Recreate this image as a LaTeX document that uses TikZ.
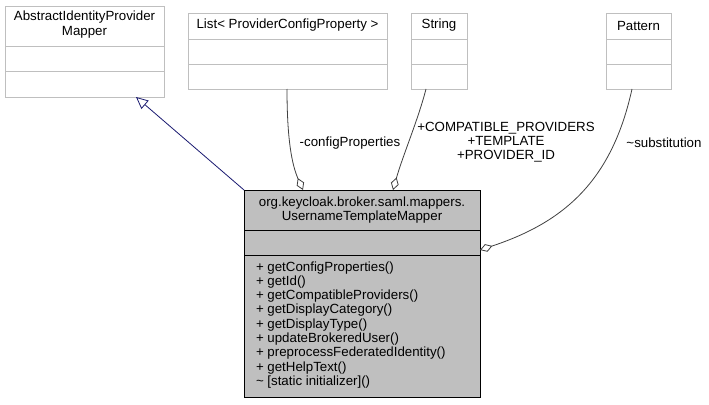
\documentclass[tikz,border=0pt]{standalone}
\usepackage{fontspec}
\setmainfont{Liberation Sans}
\usetikzlibrary{arrows.meta}
\definecolor{bd}{HTML}{BFBFBF}
\definecolor{mainfill}{HTML}{BFBFBF}
\definecolor{genblue}{HTML}{191970}
\definecolor{agg}{HTML}{404040}
\begin{document}
\begin{tikzpicture}[x=1pt,y=-1pt,
  font=\fontsize{13.3}{14.3}\selectfont,
  cls/.style={draw=bd, fill=white, line width=0.9pt, outer sep=0pt, inner sep=0pt, anchor=north west},
  mainbox/.style={draw=black, fill=mainfill, line width=1pt, outer sep=0pt, inner sep=0pt, anchor=north west},
  clsline/.style={draw=bd, line width=0.9pt},
  mainline/.style={draw=black, line width=1pt},
  txt/.style={inner sep=0pt, outer sep=0pt, align=center},
  lst/.style={inner sep=0pt, outer sep=0pt, anchor=base west},
  gen/.style={draw=genblue, line width=0.8pt, -{Triangle[open, length=12pt, width=11pt, fill=white]}},
  aggr/.style={draw=agg, line width=0.8pt, -{Diamond[open, length=13pt, width=8pt, fill=white]}}
]
\useasboundingbox[fill=white] (0,0) rectangle (709,404);

% AbstractIdentityProviderMapper
\node[cls, minimum width=159pt, minimum height=91pt] (abs) at (5,6) {};
\draw[clsline] (5,46) -- (164,46);
\draw[clsline] (5,71) -- (164,71);
\node[txt] (absname) at (84.5,24.5) {AbstractIdentityProvider\\Mapper};

% List< ProviderConfigProperty >
\node[cls, minimum width=199pt, minimum height=76pt] (list) at (188,13) {};
\draw[clsline] (188,39) -- (387,39);
\draw[clsline] (188,64) -- (387,64);
\node[txt] (listname) at (287.5,25.5) {List< ProviderConfigProperty >};

% String
\node[cls, minimum width=56pt, minimum height=76pt] (str) at (411,13) {};
\draw[clsline] (411,39) -- (467,39);
\draw[clsline] (411,64) -- (467,64);
\node[txt] (strname) at (439,25.5) {String};

% Pattern
\node[cls, minimum width=65pt, minimum height=76pt] (pat) at (606,13) {};
\draw[clsline] (606,39) -- (671,39);
\draw[clsline] (606,64) -- (671,64);
\node[txt] (patname) at (638.5,25.5) {Pattern};

% Main class
\node[mainbox, minimum width=236pt, minimum height=207pt] (main) at (244,190) {};
\draw[mainline] (244,230) -- (480,230);
\draw[mainline] (244,255) -- (480,255);
\node[txt] (mainname) at (362,210) {org.keycloak.broker.saml.mappers.\\UsernameTemplateMapper};
\foreach \t [count=\i from 0] in {%
  + getConfigProperties(),
  + getId(),
  + getCompatibleProviders(),
  + getDisplayCategory(),
  + getDisplayType(),
  + updateBrokeredUser(),
  + preprocessFederatedIdentity(),
  + getHelpText(),
  \textasciitilde{} [static initializer]()}
  \node[lst] (m\i) at (256,{271+14.3*\i}) {\t};

% connectors
\coordinate (absT) at (136,97);
\coordinate (listB) at (287,89);
\coordinate (strB) at (426,89);
\coordinate (patB) at (632,89);
\coordinate (mainA) at (303,190);
\coordinate (mainB) at (393,190);
\coordinate (mainC) at (480,250);

\draw[gen] (main.north west) -- (absT);
\draw[aggr] (listB) .. controls (287,140) and (292,165) .. (mainA);
\draw[aggr] (strB) .. controls (418,120) and (403,155) .. (mainB);
\draw[aggr] (patB) .. controls (612,180) and (565,222) .. (mainC);

\node[txt] (l1) at (350,143) {-configProperties};
\node[txt] (l2) at (506,142) {+COMPATIBLE\_PROVIDERS\\+TEMPLATE\\+PROVIDER\_ID};
\node[txt] (l3) at (664,143) {\textasciitilde substitution};
\end{tikzpicture}
\end{document}
